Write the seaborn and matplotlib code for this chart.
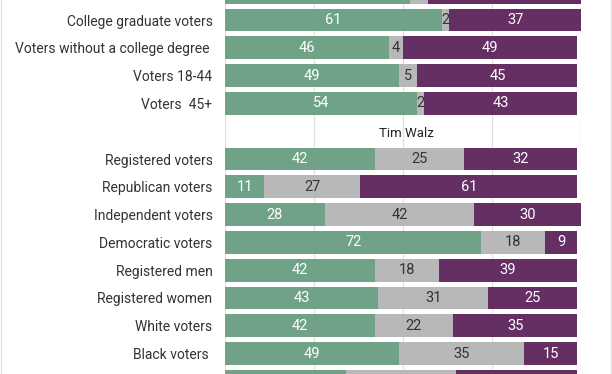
import matplotlib
matplotlib.use("Agg")
import matplotlib.pyplot as plt
import seaborn as sns
import pandas as pd
import numpy as np
from matplotlib.lines import Line2D

# ---- data (top to bottom; first and last rows are only partly visible) ----
labels = ["Hispanic voters", "College graduate voters", "Voters without a college degree ",
          "Voters 18-44", "Voters  45+", "",
          "Registered voters", "Republican voters", "Independent voters",
          "Democratic voters", "Registered men", "Registered women",
          "White voters", "Black voters ", "Hispanic voters  "]
favorable = [52, 61, 46, 49, 54, np.nan, 42, 11, 28, 72, 42, 43, 42, 49, 34]
no_opinion = [5, 2, 4, 5, 2, np.nan, 25, 27, 42, 18, 18, 31, 22, 35, 31]
unfavorable = [43, 37, 49, 45, 43, np.nan, 32, 61, 30, 9, 39, 25, 35, 15, 34]
section_title = "Tim Walz"
title_row = 5

GREEN = "#6fa287"
GRAY = "#b8b8b8"
PURPLE = "#652f63"

sns.set_style("white")
plt.rcParams["font.family"] = ["Roboto", "DejaVu Sans"]

df = pd.DataFrame({"label": labels, "fav": favorable, "none": no_opinion, "unf": unfavorable})
df["c1"] = df["fav"]
df["c2"] = df["fav"] + df["none"]
df["c3"] = df["fav"] + df["none"] + df["unf"]
plot_df = df[df["label"] != ""]

fig = plt.figure(figsize=(6.12, 3.74), dpi=100)
ax = fig.add_axes([225 / 612, 0, 356 / 612, 1])

for col, colr in [("c3", PURPLE), ("c2", GRAY), ("c1", GREEN)]:
    sns.barplot(data=plot_df, y="label", x=col, order=labels, color=colr,
                saturation=1, width=0.82, orient="h", ax=ax, linewidth=0)

y_top, y_bottom = 1 - 20 / 27.8, 1 + 354 / 27.8

# value labels (only rows fully inside the view)
for i, row in df.iterrows():
    if row["label"] == "" or i < y_top + 0.4 or i > y_bottom - 0.4:
        continue
    g, n, u = row["fav"], row["none"], row["unf"]
    ax.text(g / 2, i, f"{g:.0f}", ha="center", va="center", color="white", fontsize=10.5)
    ax.text(g + n / 2, i, f"{n:.0f}", ha="center", va="center", color="#333333", fontsize=10.5)
    ax.text(g + n + u / 2, i, f"{u:.0f}", ha="center", va="center", color="white", fontsize=10.5)

ax.text(51, title_row + 0.1, section_title, ha="center", va="center", fontsize=9.5, color="#222222")

ax.set_xlim(0, 100)
ax.set_ylim(y_bottom, y_top)
ax.set_xticks([0, 25, 50, 75, 100])
ax.set_xticklabels([])
ax.xaxis.grid(True, color="#e0e0e0", linewidth=0.9)
ax.yaxis.grid(False)
ax.set_axisbelow(True)
ax.set_xlabel("")
ax.set_ylabel("")
ax.tick_params(axis="y", length=0, pad=9, labelsize=10, labelcolor="#333333")
ax.tick_params(axis="x", length=0)
for s in ax.spines.values():
    s.set_visible(False)

fig.add_artist(Line2D([0.5 / 612, 0.5 / 612], [0, 1], color="#e2e2e2", lw=1, transform=fig.transFigure))
fig.add_artist(Line2D([610.5 / 612, 610.5 / 612], [0, 1], color="#e2e2e2", lw=1, transform=fig.transFigure))

fig.savefig("out.png", dpi=100)
